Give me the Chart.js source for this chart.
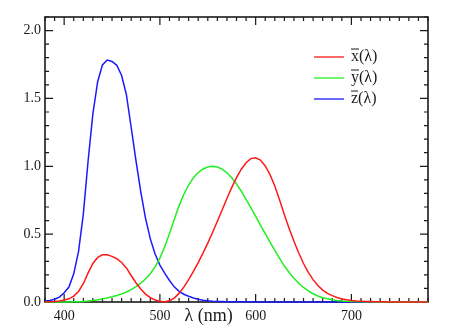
<!DOCTYPE html>
<html>
<head>
<meta charset="utf-8">
<script src="https://cdn.jsdelivr.net/npm/chart.js@4.4.0/dist/chart.umd.min.js"></script>
<style>
  html, body { margin: 0; padding: 0; background: #fff; }
  #wrap { width: 461px; height: 333px; }
</style>
</head>
<body>
<div id="wrap"><canvas id="cmf"></canvas></div>
<script>
// Longitudes de onda (nm), pasos de 5 nm
const lambdas = [380, 385, 390, 395, 400, 405, 410, 415, 420, 425, 430, 435, 440, 445, 450, 455,
    460, 465, 470, 475, 480, 485, 490, 495, 500, 505, 510, 515, 520, 525, 530, 535, 540, 545,
    550, 555, 560, 565, 570, 575, 580, 585, 590, 595, 600, 605, 610, 615, 620, 625, 630, 635,
    640, 645, 650, 655, 660, 665, 670, 675, 680, 685, 690, 695, 700, 705, 710, 715, 720, 725,
    730, 735, 740, 745, 750, 755, 760, 765, 770, 775, 780];

const xBar = [0.0014, 0.0022, 0.0042, 0.0077, 0.0143, 0.0232, 0.0435, 0.0776, 0.1344, 0.2148,
    0.2839, 0.3285, 0.3483, 0.3481, 0.3362, 0.3187, 0.2908, 0.2511, 0.1954, 0.1421, 0.0956,
    0.0580, 0.0320, 0.0147, 0.0049, 0.0024, 0.0093, 0.0291, 0.0633, 0.1096, 0.1655, 0.2257,
    0.2904, 0.3597, 0.4334, 0.5121, 0.5945, 0.6784, 0.7621, 0.8425, 0.9163, 0.9786, 1.0263,
    1.0567, 1.0622, 1.0456, 1.0026, 0.9384, 0.8544, 0.7514, 0.6424, 0.5419, 0.4479, 0.3608,
    0.2835, 0.2187, 0.1649, 0.1212, 0.0874, 0.0636, 0.0468, 0.0329, 0.0227, 0.0158, 0.0114,
    0.0081, 0.0058, 0.0041, 0.0029, 0.0020, 0.0014, 0.0010, 0.0007, 0.0005, 0.0003, 0.0002,
    0.0002, 0.0001, 0.0001, 0.0001, 0.0000];

const yBar = [0.0000, 0.0001, 0.0001, 0.0002, 0.0004, 0.0006, 0.0012, 0.0022, 0.0040, 0.0073,
    0.0116, 0.0168, 0.0230, 0.0298, 0.0380, 0.0480, 0.0600, 0.0739, 0.0910, 0.1126, 0.1390,
    0.1693, 0.2080, 0.2586, 0.3230, 0.4073, 0.5030, 0.6082, 0.7100, 0.7932, 0.8620, 0.9149,
    0.9540, 0.9803, 0.9950, 1.0000, 0.9950, 0.9786, 0.9520, 0.9154, 0.8700, 0.8163, 0.7570,
    0.6949, 0.6310, 0.5668, 0.5030, 0.4412, 0.3810, 0.3210, 0.2650, 0.2170, 0.1750, 0.1382,
    0.1070, 0.0816, 0.0610, 0.0446, 0.0320, 0.0232, 0.0170, 0.0119, 0.0082, 0.0057, 0.0041,
    0.0029, 0.0021, 0.0015, 0.0010, 0.0007, 0.0005, 0.0004, 0.0002, 0.0002, 0.0001, 0.0001,
    0.0001, 0.0000, 0.0000, 0.0000, 0.0000];

const zBar = [0.0065, 0.0106, 0.0201, 0.0362, 0.0679, 0.1102, 0.2074, 0.3713, 0.6456, 1.0391,
    1.3856, 1.6230, 1.7471, 1.7826, 1.7721, 1.7441, 1.6692, 1.5281, 1.2876, 1.0419, 0.8130,
    0.6162, 0.4652, 0.3533, 0.2720, 0.2123, 0.1582, 0.1117, 0.0783, 0.0573, 0.0422, 0.0298,
    0.0203, 0.0134, 0.0088, 0.0058, 0.0039, 0.0028, 0.0021, 0.0018, 0.0017, 0.0014, 0.0011,
    0.0010, 0.0008, 0.0006, 0.0003, 0.0002, 0.0002, 0.0001, 0.0001, 0.0000, 0.0000, 0.0000,
    0.0000, 0.0000, 0.0000, 0.0000, 0.0000, 0.0000, 0.0000, 0.0000, 0.0000, 0.0000, 0.0000,
    0.0000, 0.0000, 0.0000, 0.0000, 0.0000, 0.0000, 0.0000, 0.0000, 0.0000, 0.0000, 0.0000,
    0.0000, 0.0000, 0.0000, 0.0000, 0.0000];

const xTickLabels = [400, 500, 600, 700];
const yTickLabels = ['0.0', '0.5', '1.0', '1.5', '2.0'];
const seriesNames = ['x', 'y', 'z'];
const seriesColors = ['#ff1a1a', '#22ee22', '#1a1aff'];

const serif = '"Liberation Serif", "DejaVu Serif", serif';
const ink = '#1a1a1a';

function toPoints(values) {
    return lambdas.map((l, i) => ({ x: l, y: values[i] }));
}

// Marco, marcas hacia adentro, etiquetas y leyenda
const marcoPlugin = {
    id: 'marco',
    beforeDatasetsDraw(chart) {
        const { ctx, chartArea: a, scales: { x, y } } = chart;
        ctx.save();
        ctx.strokeStyle = ink;
        ctx.lineWidth = 1.6;
        ctx.strokeRect(a.left, a.top, a.right - a.left, a.bottom - a.top);

        ctx.lineWidth = 1.2;
        ctx.beginPath();
        for (let v = 380; v <= 780; v += 10) {
            const px = x.getPixelForValue(v);
            const len = v % 100 === 0 ? 8 : 4;
            ctx.moveTo(px, a.bottom); ctx.lineTo(px, a.bottom - len);
            ctx.moveTo(px, a.top); ctx.lineTo(px, a.top + len);
        }
        for (let k = 0; k <= 21; k++) {
            const v = k / 10;
            const py = y.getPixelForValue(v);
            const len = k % 5 === 0 ? 8 : 4;
            ctx.moveTo(a.left, py); ctx.lineTo(a.left + len, py);
            ctx.moveTo(a.right, py); ctx.lineTo(a.right - len, py);
        }
        ctx.stroke();

        ctx.fillStyle = ink;
        ctx.font = '14px ' + serif;
        ctx.textBaseline = 'middle';
        ctx.textAlign = 'right';
        yTickLabels.forEach(t => ctx.fillText(t, a.left - 4, y.getPixelForValue(parseFloat(t))));
        ctx.textAlign = 'center';
        xTickLabels.forEach(t => ctx.fillText(String(t), x.getPixelForValue(t), a.bottom + 14));

        ctx.font = '18px ' + serif;
        ctx.fillText('λ (nm)', x.getPixelForValue(551), a.bottom + 14);
        ctx.restore();
    },
    afterDraw(chart) {
        const { ctx } = chart;
        ctx.save();
        ctx.font = '16px ' + serif;
        ctx.textBaseline = 'middle';
        ctx.textAlign = 'left';
        seriesNames.forEach((name, i) => {
            const yy = 57 + i * 21;
            ctx.strokeStyle = seriesColors[i];
            ctx.lineWidth = 1.3;
            ctx.beginPath();
            ctx.moveTo(314, yy); ctx.lineTo(344, yy);
            ctx.stroke();

            ctx.fillStyle = ink;
            ctx.fillText(name, 351, yy);
            const w = ctx.measureText(name).width;
            ctx.strokeStyle = ink;
            ctx.lineWidth = 1;
            ctx.beginPath();
            ctx.moveTo(351, yy - 8); ctx.lineTo(351 + w, yy - 8);
            ctx.stroke();
            ctx.fillText('(λ)', 351 + w, yy);
        });
        ctx.restore();
    }
};

new Chart(document.getElementById('cmf'), {
    type: 'line',
    data: {
        datasets: [xBar, yBar, zBar].map((vals, i) => ({
            label: seriesNames[i],
            data: toPoints(vals),
            borderColor: seriesColors[i],
            borderWidth: 1.5,
            pointRadius: 0,
            tension: 0,
            fill: false,
            clip: false
        }))
    },
    options: {
        responsive: true,
        maintainAspectRatio: false,
        animation: false,
        layout: { padding: { left: 45, top: 17, right: 33, bottom: 31 } },
        plugins: { legend: { display: false }, tooltip: { enabled: false } },
        scales: {
            x: { type: 'linear', min: 380, max: 780, display: false },
            y: { type: 'linear', min: 0, max: 2.1, display: false }
        }
    },
    plugins: [marcoPlugin]
});
</script>
</body>
</html>
